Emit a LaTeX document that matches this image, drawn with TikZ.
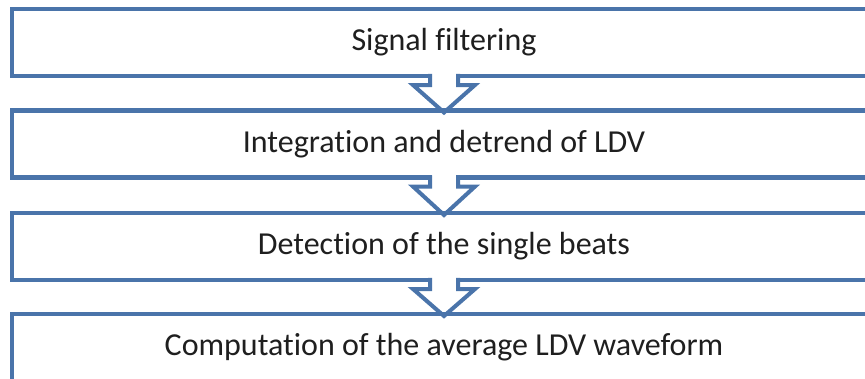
\documentclass[tikz,border=0pt]{standalone}
\usepackage{fontspec}
\setmainfont{Carlito}[Ligatures={NoCommon}]
\usetikzlibrary{calc}
\definecolor{stepblue}{RGB}{74,116,170}
\begin{document}
\begin{tikzpicture}[x=1pt,y=-1pt,
  stepbox/.style={draw=stepblue, line width=4.5pt, fill=white, rectangle,
    minimum width=864pt, minimum height=67pt, outer sep=0pt, inner sep=0pt,
    font=\fontsize{32}{36}\selectfont, text=black!88},
  flowline/.style={draw=stepblue, line width=4pt, line join=miter}]
\useasboundingbox (0,0) rectangle (865,378);
\clip (0,0) rectangle (865,378);
% process steps
\node[stepbox] (s1) at (444,42.5) {Signal filtering};
\node[stepbox] (s2) at (444,144) {Integration and detrend of LDV};
\node[stepbox] (s3) at (444,246.5) {Detection of the single beats};
\node[stepbox] (s4) at (444,347.5) {Computation of the average LDV waveform};
% hollow block arrows between consecutive steps
\foreach \a/\b in {s1/s2,s2/s3,s3/s4}{
  \fill[white] ($(\a.south)+(-12,-3)$) rectangle ($(\a.south)+(12,9)$);
  \draw[flowline] ($(\a.south)+(-14,-2.25)$) -- ++(0,11.25) -- ++(-17,0)
    -- ($(\b.north)+(0,2)$) -- ($(\a.south)+(31,9)$) -- ++(-17,0) -- ++(0,-11.25);
}
\end{tikzpicture}
\end{document}
